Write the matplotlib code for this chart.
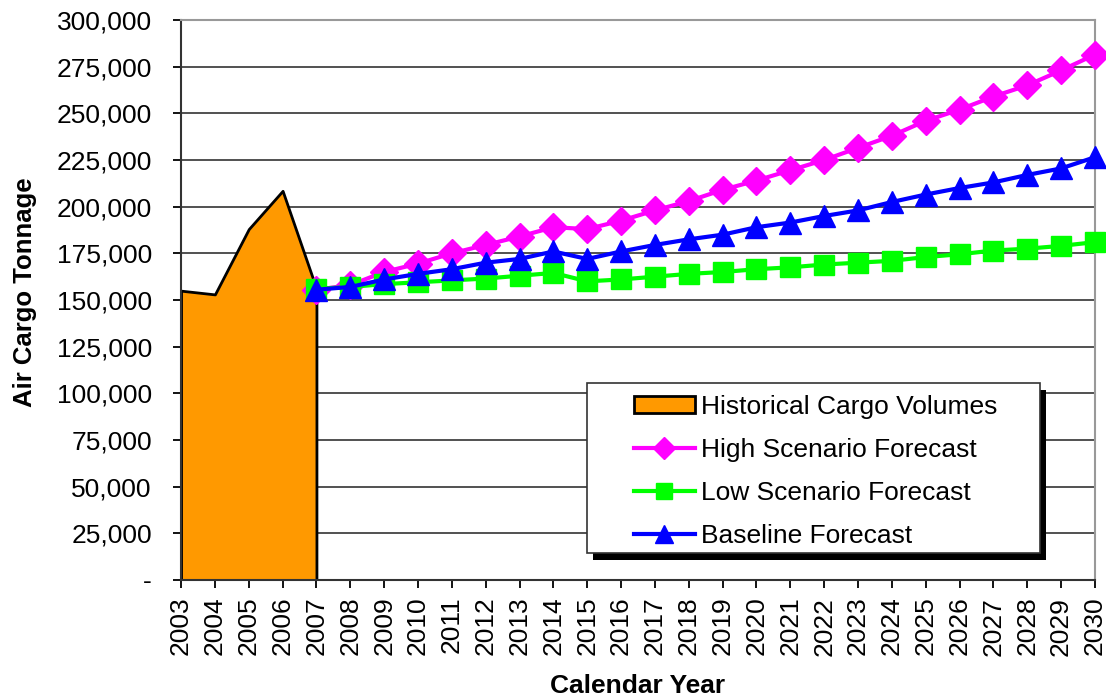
import matplotlib
matplotlib.use('Agg')
import matplotlib.pyplot as plt
from matplotlib.patches import Patch, Rectangle
from matplotlib.lines import Line2D
from matplotlib.ticker import FuncFormatter

plt.rcParams['font.family'] = ['Liberation Sans', 'DejaVu Sans']

# historical volumes (area)
hist_years = [2003, 2004, 2005, 2006, 2007]
hist_tons = [155000, 153000, 188000, 208500, 156000]

# forecasts
fc_years = list(range(2007, 2031))
high = [155500, 158000, 165000, 169500, 175000, 179500, 184000, 189000, 188000,
        192500, 198000, 203000, 209000, 214000, 219500, 225000, 231500, 238000,
        246000, 252000, 259000, 265000, 273000, 281500]
low = [156000, 157000, 158500, 159500, 160500, 161500, 163000, 164500, 160000,
       161000, 162500, 164000, 165000, 166500, 167500, 169000, 170000, 171000,
       173000, 174500, 176500, 177500, 179000, 181000]
base = [155500, 157000, 161000, 164000, 166500, 170000, 172000, 176000, 172000,
        176000, 179500, 182500, 185000, 189000, 191500, 195000, 198000, 202500,
        206500, 210000, 213000, 217000, 220500, 226500]

fig = plt.figure(figsize=(11.06, 6.98), dpi=100)
ax = fig.add_axes([0.1637, 0.1691, 0.8263, 0.8022])

ax.fill_between(hist_years, hist_tons, 0, facecolor='#FF9900', edgecolor='black',
                linewidth=2, zorder=2)

ax.plot(fc_years, high, color='#FF00FF', lw=3, marker='D', ms=14, zorder=3, clip_on=False)
ax.plot(fc_years, low, color='#00FF00', lw=3, marker='s', ms=14, zorder=4, clip_on=False)
ax.plot(fc_years, base, color='#0000FF', lw=3, marker='^', ms=16, zorder=5, clip_on=False)

ax.set_xlim(2003, 2030)
ax.set_ylim(0, 300000)
ax.set_xticks(range(2003, 2031))
ax.set_yticks(range(0, 300001, 25000))
ax.yaxis.set_major_formatter(FuncFormatter(lambda v, p: '-' if v == 0 else f'{int(v):,}'))
ax.tick_params(axis='x', labelrotation=90, labelsize=19, length=6, width=1.3, pad=6)
ax.tick_params(axis='y', labelsize=19, length=6, width=1.3, pad=15)
ax.grid(axis='y', color='#333333', linewidth=1.2, zorder=0)
ax.set_axisbelow(True)

for s in ['left', 'bottom']:
    ax.spines[s].set_color('#333333')
    ax.spines[s].set_linewidth(1.5)
for s in ['top', 'right']:
    ax.spines[s].set_color('#999999')
    ax.spines[s].set_linewidth(1.5)

ax.set_xlabel('Calendar Year', fontsize=19, fontweight='bold', labelpad=13)
ax.set_ylabel('Air Cargo Tonnage', fontsize=18.5, fontweight='bold')
ax.yaxis.set_label_coords(-0.1575, 0.514)

# legend frame with hard black shadow
x0, y0, w, h = 0.4442, 0.0482, 0.4956, 0.3036
ax.add_patch(Rectangle((x0 + 0.0066, y0 - 0.0125), w, h, transform=ax.transAxes,
                       facecolor='black', edgecolor='none', zorder=9, clip_on=False))
ax.add_patch(Rectangle((x0, y0), w, h, transform=ax.transAxes,
                       facecolor='white', edgecolor='#333333', linewidth=1.2,
                       zorder=9.5, clip_on=False))

handles = [
    Patch(facecolor='#FF9900', edgecolor='black', linewidth=2),
    Line2D([], [], color='#FF00FF', lw=3, marker='D', ms=11),
    Line2D([], [], color='#00FF00', lw=3, marker='s', ms=11),
    Line2D([], [], color='#0000FF', lw=3, marker='^', ms=13),
]
labels = ['Historical Cargo Volumes', 'High Scenario Forecast',
          'Low Scenario Forecast', 'Baseline Forecast']
leg = ax.legend(handles, labels, loc='upper left', bbox_to_anchor=(0.4956, 0.331),
                fontsize=19, frameon=False, handlelength=2.3, handleheight=0.6,
                handletextpad=0.25, labelspacing=0.72, borderpad=0, borderaxespad=0)
leg.set_zorder(10)

fig.savefig('out.png', dpi=100)
